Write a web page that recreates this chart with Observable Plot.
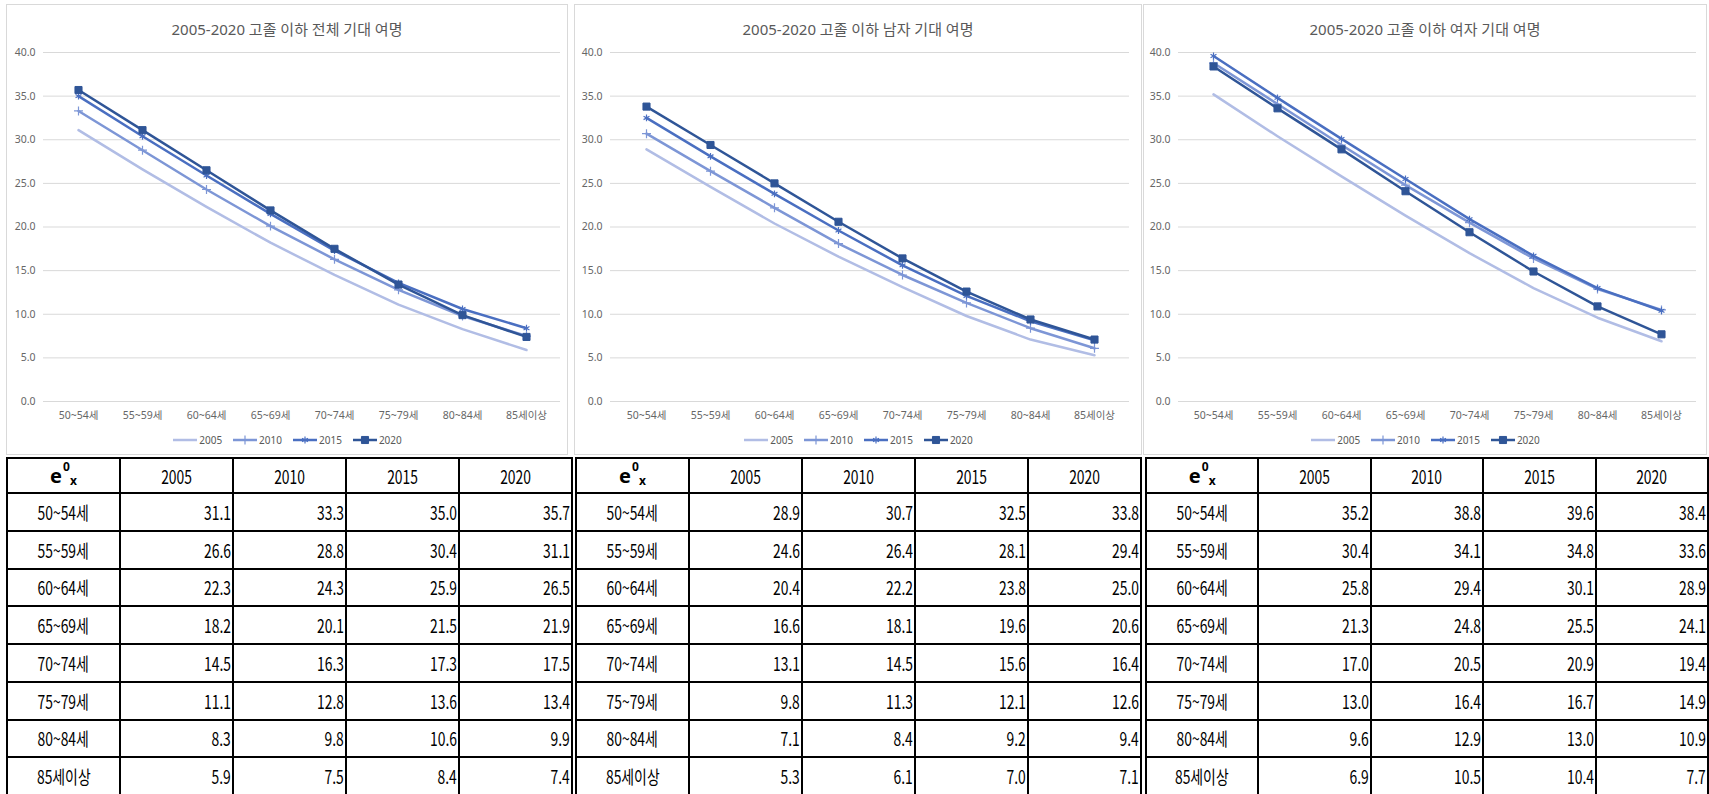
<!DOCTYPE html>
<html lang="ko">
<head>
<meta charset="utf-8">
<script src="https://cdn.jsdelivr.net/npm/d3@7"></script>
<script src="https://cdn.jsdelivr.net/npm/@observablehq/plot@0.6"></script>
<style>
  html, body { margin: 0; padding: 0; background: #fff; }
  body { width: 1709px; height: 794px; position: relative; overflow: hidden;
         font-family: "Noto Sans", "Noto Sans CJK KR", sans-serif; }
  .panel { position: absolute; top: 4px; height: 451px; border: 1px solid #d9d9d9; box-sizing: border-box; background: #fff; }
  .panel .title { position: absolute; left: 0; right: 0; top: 12px; line-height: 24px; text-align: center;
                  font-size: 15px; color: #595959; font-family: "Noto Sans", "Noto Sans CJK KR", sans-serif; }
  .panel .chart { position: absolute; left: 0; top: 39px; }
  .legend { position: absolute; left: 0; right: 0; top: 429px; height: 12px; display: flex; justify-content: center;
            align-items: center; font-size: 10px; line-height: 12px; color: #595959; }
  .legend .item { display: flex; align-items: center; margin: 0 5px; }
  .legend svg { display: block; margin-right: 1px; overflow: visible; }
  .table { position: absolute; top: 457px; display: grid; grid-template-columns: repeat(5, 1fr);
           grid-template-rows: 35px repeat(8, 37.75px); border-left: 2px solid #000; border-top: 2px solid #000;
           box-sizing: border-box; font-family: "Noto Sans CJK KR", sans-serif; font-size: 18.5px; color: #000; }
  .cell { border-right: 2px solid #000; border-bottom: 2px solid #000; box-sizing: border-box; display: flex;
          align-items: center; justify-content: center; overflow: hidden; white-space: nowrap; }
  .cell.num { justify-content: flex-end; padding-right: 1px; }
  .cell .sq { display: inline-block; transform: scaleX(0.75); transform-origin: center center; }
  .cell.num .sq { transform-origin: right center; }
  .ex { display: inline-flex; align-items: center; font-weight: 700; font-size: 20px; line-height: 20px;
        font-family: "Noto Sans", "Noto Sans CJK KR", sans-serif; }
  .ex .idx { position: relative; display: inline-block; width: 14px; height: 22px; margin-left: 1px;
             font-size: 12px; line-height: 12px; }
  .ex .idx .sup { position: absolute; left: 0; top: -4px; }
  .ex .idx .sub { position: absolute; left: 7px; top: 10px; }
</style>
</head>
<body>
<script>
// Age groups on the x axis and survey years (one line per year)
const ageGroups = ["50~54세", "55~59세", "60~64세", "65~69세", "70~74세", "75~79세", "80~84세", "85세이상"];
const years = ["2005", "2010", "2015", "2020"];
const yTicks = [0, 5, 10, 15, 20, 25, 30, 35, 40];

// Life expectancy, high-school graduates or less — total
const total2005 = [31.1, 26.6, 22.3, 18.2, 14.5, 11.1, 8.3, 5.9];
const total2010 = [33.3, 28.8, 24.3, 20.1, 16.3, 12.8, 9.8, 7.5];
const total2015 = [35.0, 30.4, 25.9, 21.5, 17.3, 13.6, 10.6, 8.4];
const total2020 = [35.7, 31.1, 26.5, 21.9, 17.5, 13.4, 9.9, 7.4];

// — men
const male2005 = [28.9, 24.6, 20.4, 16.6, 13.1, 9.8, 7.1, 5.3];
const male2010 = [30.7, 26.4, 22.2, 18.1, 14.5, 11.3, 8.4, 6.1];
const male2015 = [32.5, 28.1, 23.8, 19.6, 15.6, 12.1, 9.2, 7.0];
const male2020 = [33.8, 29.4, 25.0, 20.6, 16.4, 12.6, 9.4, 7.1];

// — women
const female2005 = [35.2, 30.4, 25.8, 21.3, 17.0, 13.0, 9.6, 6.9];
const female2010 = [38.8, 34.1, 29.4, 24.8, 20.5, 16.4, 12.9, 10.5];
const female2015 = [39.6, 34.8, 30.1, 25.5, 20.9, 16.7, 13.0, 10.4];
const female2020 = [38.4, 33.6, 28.9, 24.1, 19.4, 14.9, 10.9, 7.7];

const panelTitles = [
  "2005-2020 고졸 이하 전체 기대 여명",
  "2005-2020 고졸 이하 남자 기대 여명",
  "2005-2020 고졸 이하 여자 기대 여명"
];
const panelSeries = [
  [total2005, total2010, total2015, total2020],
  [male2005, male2010, male2015, male2020],
  [female2005, female2010, female2015, female2020]
];

// Styling per series
const seriesColors = ["#b1bde5", "#7d96d6", "#4a6fc1", "#2f5597"];
const seriesSymbols = [null, "plus", "asterisk", "square"];
const seriesMarkerR = [0, 3, 3.2, 4];

// Page layout: chart boxes and table boxes (page pixels)
const chartBoxes = [
  {left: 6, width: 562, plotLeft: 43, plotRight: 560},
  {left: 574, width: 568, plotLeft: 610, plotRight: 1129},
  {left: 1143, width: 564, plotLeft: 1178, plotRight: 1696}
];
const tableBoxes = [
  {left: 6, width: 567},
  {left: 575, width: 567},
  {left: 1145, width: 564}
];

const fmt = d3.format(".1f");
const symbolTypes = {plus: d3.symbolPlus, asterisk: d3.symbolAsterisk, square: d3.symbolSquare};

panelTitles.forEach((title, p) => {
  const box = chartBoxes[p];
  const series = panelSeries[p];

  const panel = document.createElement("div");
  panel.className = "panel";
  panel.style.left = box.left + "px";
  panel.style.width = box.width + "px";
  document.body.appendChild(panel);

  const titleDiv = document.createElement("div");
  titleDiv.className = "title";
  titleDiv.textContent = title;
  panel.appendChild(titleDiv);

  const rowsByYear = years.map((year, i) =>
    ageGroups.map((age, j) => ({age, year, value: series[i][j]}))
  );

  const contentWidth = box.width - 2;
  const marginLeft = box.plotLeft - (box.left + 1);
  const marginRight = (box.left + 1 + contentWidth) - box.plotRight;

  const marks = [
    Plot.gridY(yTicks, {stroke: "#d9d9d9", strokeOpacity: 1, strokeWidth: 1}),
    Plot.axisY(yTicks, {tickSize: 0, tickPadding: 8, tickFormat: fmt, label: null}),
    Plot.axisX(ageGroups, {tickSize: 0, tickPadding: 10, label: null})
  ];
  rowsByYear.forEach((rows, i) => {
    marks.push(Plot.line(rows, {
      x: "age", y: "value", stroke: seriesColors[i],
      strokeWidth: 2.5, strokeLinejoin: "round", strokeLinecap: "round"
    }));
    const sym = seriesSymbols[i];
    if (sym) {
      const filled = sym === "square";
      marks.push(Plot.dot(rows, {
        x: "age", y: "value", symbol: () => sym, r: seriesMarkerR[i],
        fill: filled ? seriesColors[i] : "none",
        stroke: seriesColors[i], strokeWidth: filled ? 1 : 1.2
      }));
    }
  });

  const chart = Plot.plot({
    width: contentWidth,
    height: 385,
    marginTop: 8,
    marginBottom: 28,
    marginLeft,
    marginRight,
    style: {
      fontFamily: "'Noto Sans', 'Noto Sans CJK KR', sans-serif",
      fontSize: "10.5px",
      color: "#666",
      background: "transparent",
      overflow: "visible"
    },
    x: {type: "point", domain: ageGroups, padding: 0.5, axis: null},
    y: {domain: [0, 40], axis: null},
    symbol: {type: "identity"},
    marks
  });
  chart.classList.add("chart");
  panel.appendChild(chart);

  // Legend: a short line with the series marker, then the year
  const legend = document.createElement("div");
  legend.className = "legend";
  years.forEach((year, i) => {
    const item = document.createElement("div");
    item.className = "item";
    const svg = d3.create("svg").attr("width", 26).attr("height", 12);
    svg.append("line").attr("x1", 1).attr("x2", 25).attr("y1", 6).attr("y2", 6)
      .attr("stroke", seriesColors[i]).attr("stroke-width", 2.5);
    const sym = seriesSymbols[i];
    if (sym) {
      const filled = sym === "square";
      const size = Math.PI * seriesMarkerR[i] * seriesMarkerR[i];
      svg.append("path").attr("transform", "translate(13,6)")
        .attr("d", d3.symbol(symbolTypes[sym], size)())
        .attr("fill", filled ? seriesColors[i] : "none")
        .attr("stroke", seriesColors[i]).attr("stroke-width", filled ? 1 : 1.2);
    }
    item.appendChild(svg.node());
    const label = document.createElement("span");
    label.textContent = year;
    item.appendChild(label);
    legend.appendChild(item);
  });
  panel.appendChild(legend);

  // Data table under each chart
  const tb = tableBoxes[p];
  const table = document.createElement("div");
  table.className = "table";
  table.style.left = tb.left + "px";
  table.style.width = tb.width + "px";

  const addCell = (html, cls) => {
    const c = document.createElement("div");
    c.className = "cell" + (cls ? " " + cls : "");
    c.innerHTML = html;
    table.appendChild(c);
  };
  addCell('<span class="ex">e<span class="idx"><span class="sup">0</span><span class="sub">x</span></span></span>');
  years.forEach(y => addCell('<span class="sq">' + y + '</span>'));
  ageGroups.forEach((age, j) => {
    addCell('<span class="sq">' + age + '</span>');
    years.forEach((y, i) => addCell('<span class="sq">' + fmt(series[i][j]) + '</span>', "num"));
  });
  document.body.appendChild(table);
});
</script>
</body>
</html>
